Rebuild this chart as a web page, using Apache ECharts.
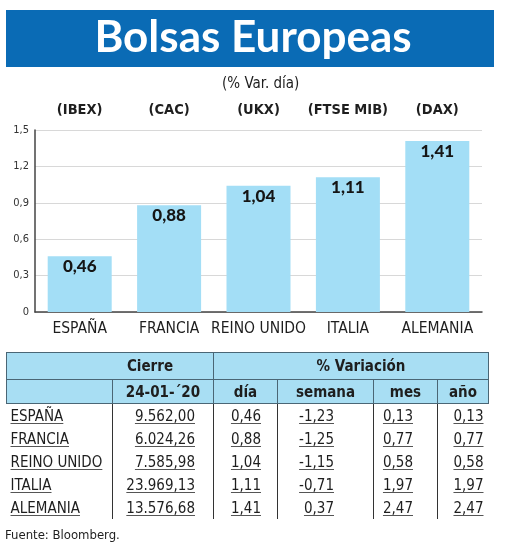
<!DOCTYPE html>
<html>
<head>
<meta charset="utf-8">
<script src="https://cdn.jsdelivr.net/npm/echarts@6/dist/echarts.min.js"></script>
<style>
  html, body { margin: 0; padding: 0; background: #fff; }
  #wrap { position: relative; width: 520px; height: 545px; overflow: hidden; }
  #chart { position: absolute; left: 0; top: 0; width: 520px; height: 545px; }
  #tbl {
    position: absolute; left: 6px; top: 352px; border-collapse: collapse;
    font-family: "DejaVu Sans Condensed", "Liberation Sans Narrow", sans-serif;
    color: #1e1e1e; table-layout: fixed;
  }
  #tbl td { padding: 0; white-space: nowrap; overflow: visible; }
  #tbl tr.h td { background: #a8def3; font-weight: bold; font-size: 15px; text-align: center; border: 1px solid #4a6675; }
  #tbl tr.h1 td { height: 26px; }
  #tbl tr.h2 td { height: 23px; }
  #tbl tr.b td { height: 23px; font-size: 15px; text-align: right; border-left: 1px solid #333; }
  #tbl tr.b td:first-child { text-align: left; border-left: none; padding-left: 4px; }
  #tbl tr.b td span { text-decoration: underline; text-decoration-color: #555; text-underline-offset: 2px; }
  #src { position: absolute; left: 5px; top: 527px; font-family: "DejaVu Sans Condensed", sans-serif; font-size: 13px; color: #1e1e1e; }
</style>
</head>
<body>
<div id="wrap">
  <div id="chart"></div>
  <table id="tbl"></table>
  <div id="src">Fuente: Bloomberg.</div>
</div>
<script>
const categories = ['ESPAÑA', 'FRANCIA', 'REINO UNIDO', 'ITALIA', 'ALEMANIA'];
const indexNames = ['(IBEX)', '(CAC)', '(UKX)', '(FTSE MIB)', '(DAX)'];
const varDia = [0.46, 0.88, 1.04, 1.11, 1.41];
const cierre = ['9.562,00', '6.024,26', '7.585,98', '23.969,13', '13.576,68'];
const varSemana = [-1.23, -1.25, -1.15, -0.71, 0.37];
const varMes = [0.13, 0.77, 0.58, 1.97, 2.47];
const varAno = [0.13, 0.77, 0.58, 1.97, 2.47];
const headerTop = ['Cierre', '% Variación'];
const headerCols = ['24-01-´20', 'día', 'semana', 'mes', 'año'];

const fmt = v => v.toFixed(2).replace('.', ',');
const narrow = '"DejaVu Sans Condensed", "Liberation Sans Narrow", sans-serif';

const chart = echarts.init(document.getElementById('chart'));
chart.setOption({
  animation: false,
  graphic: [
    { type: 'rect', shape: { x: 6, y: 10, width: 488, height: 57 }, style: { fill: '#0a6bb5' } },
    { type: 'text', x: 253, y: 38, style: { text: 'Bolsas Europeas', fill: '#fff', font: 'bold 44px Lato, "Open Sans", sans-serif', align: 'center', verticalAlign: 'middle' } }
  ],
  title: {
    text: '(% Var. día)', left: 217, top: 72,
    textStyle: { fontFamily: narrow, fontSize: 15, fontWeight: 'normal', color: '#1e1e1e' }
  },
  grid: { left: 35, right: 38, top: 130, bottom: 233 },
  xAxis: [
    {
      type: 'category', data: categories, position: 'bottom',
      axisLine: { lineStyle: { color: '#444', width: 1.5 } },
      axisTick: { show: false },
      axisLabel: { interval: 0, fontFamily: narrow, fontSize: 15.5, color: '#1e1e1e', margin: 9 }
    },
    {
      type: 'category', data: indexNames, position: 'top',
      axisLine: { show: false }, axisTick: { show: false },
      axisLabel: { interval: 0, fontFamily: narrow, fontSize: 14.5, fontWeight: 'bold', color: '#1e1e1e', margin: 12 }
    }
  ],
  yAxis: {
    type: 'value', min: 0, max: 1.5, interval: 0.3,
    axisLine: { show: true, lineStyle: { color: '#444', width: 1.5 } },
    axisTick: { show: false },
    splitLine: { lineStyle: { color: '#d8d8d8' } },
    axisLabel: { fontFamily: narrow, fontSize: 11, color: '#333', margin: 6, formatter: v => String(+v.toFixed(1)).replace('.', ',') }
  },
  series: [{
    type: 'bar', data: varDia, barWidth: 64, xAxisIndex: 0,
    itemStyle: { color: '#a3def6' },
    label: {
      show: true, position: 'insideTop', distance: 2,
      formatter: p => fmt(p.value),
      fontFamily: 'Lato, sans-serif', fontWeight: 900, fontSize: 17, color: '#151515'
    }
  }]
});

// table
const tbl = document.getElementById('tbl');
const widths = [106, 101, 64, 96, 64, 51];
const padR = [0, 18, 16, 39, 24, 5];
let html = '<colgroup>' + widths.map(w => `<col style="width:${w}px">`).join('') + '</colgroup>';
html += `<tr class="h h1"><td colspan="2" style="padding-left:80px">${headerTop[0]}</td><td colspan="4" style="padding-left:20px">${headerTop[1]}</td></tr>`;
html += '<tr class="h h2"><td style="border-right:none"></td>' + headerCols.map(h => `<td>${h}</td>`).join('') + '</tr>';
categories.forEach((c, i) => {
  const cells = [c, cierre[i], fmt(varDia[i]), fmt(varSemana[i]), fmt(varMes[i]), fmt(varAno[i])];
  html += '<tr class="b">' + cells.map((v, j) => `<td style="padding-right:${padR[j]}px"><span>${v}</span></td>`).join('') + '</tr>';
});
tbl.innerHTML = html;
</script>
</body>
</html>
